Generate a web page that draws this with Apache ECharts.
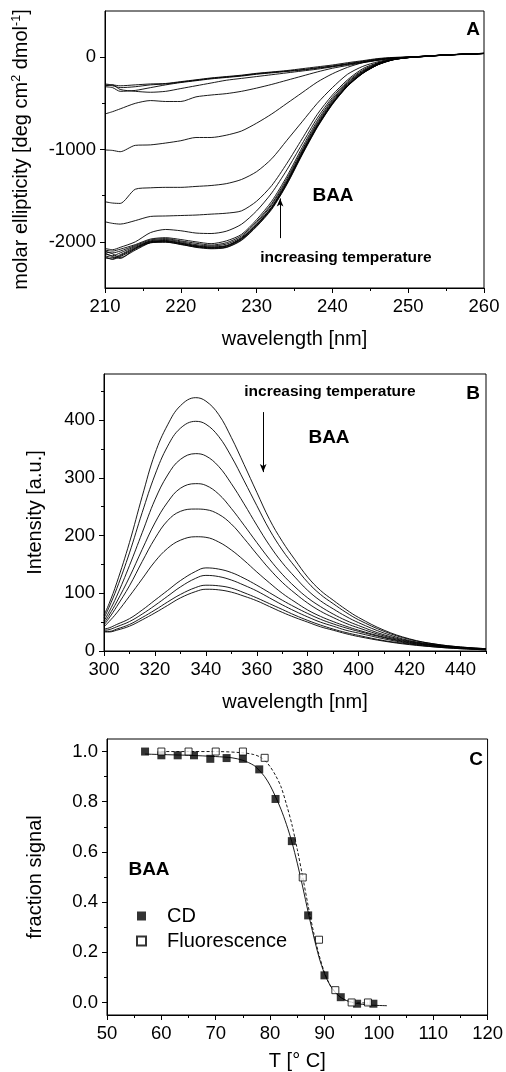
<!DOCTYPE html>
<html>
<head>
<meta charset="utf-8">
<script src="https://cdn.jsdelivr.net/npm/echarts@6/dist/echarts.min.js"></script>
<style>
  html, body { margin: 0; padding: 0; background: #fff; }
  #chart { width: 506px; height: 1072px; }
</style>
</head>
<body>
<div id="chart"></div>
<script>
// ---- panel A : CD spectra, molar ellipticity vs wavelength ----
var wlA = [210, 211, 212, 214, 216, 218, 220, 222, 224, 226, 228, 230, 232, 234, 236, 238, 240, 242, 244, 246, 248, 250, 252, 255, 260];
var cdU1 = [-300, -310, -330, -320, -300, -290, -270, -250, -230, -215, -200, -180, -165, -150, -135, -115, -95, -70, -45, -20, -5, 0, 8, 22, 38];
var cdU2 = [-320, -330, -370, -360, -330, -300, -275, -255, -235, -220, -205, -185, -170, -155, -140, -120, -100, -75, -50, -25, -8, 0, 8, 22, 40];
var cdU3 = [-310, -300, -350, -370, -380, -370, -340, -310, -280, -250, -230, -210, -190, -170, -150, -130, -105, -80, -55, -30, -10, 0, 9, 24, 40];
var cdU4 = [-290, -300, -310, -300, -290, -285, -265, -245, -225, -210, -195, -175, -160, -145, -125, -105, -85, -60, -38, -15, -3, 2, 10, 25, 42];
var cd3 = [-615, -590, -560, -500, -470, -480, -480, -430, -410, -395, -370, -335, -295, -250, -205, -160, -120, -90, -60, -35, -12, 0, 10, 24, 40];
var cd4 = [-1005, -1010, -1024, -955, -950, -930, -905, -870, -870, -845, -800, -715, -615, -500, -385, -270, -180, -110, -60, -30, -10, 0, 10, 25, 40];
var cd5 = [-1566, -1580, -1584, -1430, -1415, -1410, -1410, -1400, -1390, -1370, -1325, -1240, -1100, -900, -700, -500, -330, -185, -100, -50, -15, 0, 10, 25, 40];
var cd6 = [-1783, -1800, -1808, -1770, -1725, -1720, -1715, -1710, -1700, -1690, -1665, -1560, -1390, -1150, -885, -620, -410, -245, -125, -60, -20, -2, 9, 25, 40];
var cd7 = [-2072, -2085, -2060, -2000, -1900, -1866, -1880, -1905, -1910, -1885, -1810, -1665, -1470, -1220, -940, -660, -435, -260, -140, -65, -22, -3, 9, 24, 40];
var cdB1 = [-2090, -2100, -2080, -2030, -1970, -1955, -1975, -2000, -2020, -1990, -1920, -1760, -1560, -1290, -980, -690, -455, -275, -150, -70, -22, -3, 8, 24, 40];
var cdB2 = [-2110, -2120, -2100, -2040, -1980, -1965, -1990, -2015, -2035, -2010, -1935, -1780, -1585, -1315, -1005, -710, -470, -285, -157, -73, -24, -4, 8, 24, 41];
var cdB3 = [-2130, -2150, -2120, -2050, -1990, -1975, -2000, -2030, -2045, -2025, -1950, -1795, -1600, -1335, -1020, -725, -482, -295, -163, -76, -25, -4, 7, 23, 40];
var cdB4 = [-2150, -2170, -2140, -2060, -2000, -1985, -2010, -2040, -2055, -2040, -1960, -1810, -1620, -1350, -1035, -740, -495, -305, -170, -80, -27, -5, 7, 23, 42];
var cdB5 = [-2160, -2190, -2160, -2080, -2005, -1995, -2020, -2050, -2065, -2050, -1970, -1820, -1632, -1362, -1045, -750, -502, -310, -173, -81, -28, -5, 7, 24, 40];
var cdB6 = [-2100, -2130, -2170, -2090, -2010, -2000, -2030, -2055, -2070, -2058, -1978, -1828, -1640, -1370, -1052, -756, -507, -313, -175, -82, -28, -5, 6, 23, 41];
var cdB7 = [-2120, -2160, -2180, -2070, -1995, -1990, -2015, -2045, -2060, -2045, -1965, -1815, -1626, -1356, -1040, -745, -498, -307, -171, -80, -27, -5, 7, 24, 40];
var cdB8 = [-2175, -2185, -2150, -2070, -2010, -2005, -2025, -2060, -2075, -2062, -1985, -1835, -1648, -1378, -1060, -762, -512, -316, -177, -83, -29, -6, 6, 23, 42];
var cdCurves = [cdU1, cdU2, cdU3, cdU4, cd3, cd4, cd5, cd6, cd7, cdB1, cdB2, cdB3, cdB4, cdB5, cdB6, cdB7, cdB8];
var ticksAx = [210, 220, 230, 240, 250, 260];
var minorAx = [215, 225, 235, 245, 255];
var ticksAy = [-2000, -1000, 0];
var minorAy = [-1500, -500];

// ---- panel B : fluorescence spectra ----
var wlB = [300, 302, 305, 310, 315, 320, 325, 330, 336, 340, 345, 350, 355, 360, 365, 370, 375, 380, 385, 390, 395, 400, 410, 420, 430, 440, 450];
var flT1 = [62, 82, 118, 188, 268, 342, 392, 425, 439, 433, 410, 370, 323, 275, 228, 190, 158, 128, 105, 88, 72, 58, 36, 21, 12, 7, 4];
var flT2 = [57, 76, 108, 170, 240, 305, 355, 386, 398, 393, 372, 337, 295, 252, 210, 175, 146, 119, 98, 82, 67, 54, 34, 20, 12, 7, 4];
var flT3 = [52, 68, 95, 148, 205, 262, 305, 332, 342, 338, 320, 290, 255, 218, 183, 153, 128, 105, 87, 73, 60, 49, 31, 18, 11, 6, 4];
var flT4 = [48, 62, 85, 128, 176, 222, 258, 282, 290, 287, 272, 247, 218, 188, 159, 133, 111, 92, 77, 64, 53, 44, 28, 17, 10, 6, 3];
var flT5 = [45, 57, 77, 113, 155, 195, 226, 242, 246, 245, 237, 220, 195, 168, 142, 119, 100, 83, 69, 58, 48, 40, 26, 16, 10, 6, 3];
var flT6 = [42, 51, 66, 95, 125, 155, 178, 192, 198, 197, 189, 175, 157, 137, 118, 100, 85, 71, 60, 51, 43, 36, 24, 15, 9, 5, 3];
var flL1 = [38, 40, 46, 56, 71, 88, 105, 122, 138, 144, 142, 136, 126, 114, 101, 88, 76, 65, 55, 47, 40, 34, 23, 14, 9, 5, 3];
var flL2 = [36, 37, 42, 51, 64, 79, 95, 111, 126, 131, 129, 123, 114, 104, 92, 80, 69, 59, 50, 43, 36, 31, 21, 13, 8, 5, 3];
var flL3 = [34, 34, 38, 46, 58, 71, 85, 98, 110, 114, 113, 109, 101, 92, 82, 72, 62, 53, 45, 38, 32, 27, 18, 12, 7, 4, 2];
var flL4 = [33, 33, 36, 43, 54, 66, 79, 92, 103, 107, 106, 102, 95, 87, 77, 67, 58, 50, 42, 36, 30, 25, 17, 11, 7, 4, 2];
var flCurves = [flT1, flT2, flT3, flT4, flT5, flT6, flL1, flL2, flL3, flL4];
var ticksBx = [300, 320, 340, 360, 380, 400, 420, 440];
var minorBx = [310, 330, 350, 370, 390, 410, 430, 450];
var ticksBy = [0, 100, 200, 300, 400];
var minorBy = [50, 150, 250, 350, 450];

// ---- panel C : melting curves ----
var cdT = [57, 60, 63, 66, 69, 72, 75, 78, 81, 84, 87, 90, 93, 96, 99];
var cdFrac = [1.0, 0.985, 0.985, 0.985, 0.971, 0.974, 0.971, 0.929, 0.811, 0.643, 0.347, 0.108, 0.021, -0.005, -0.005];
var fluT = [60, 65, 70, 75, 79, 86, 89, 92, 95, 98];
var fluFrac = [1.0, 1.0, 1.0, 1.0, 0.975, 0.498, 0.25, 0.049, 0.0, 0.0];
var cdFitT = [57, 60, 65, 70, 73, 75, 77, 78, 79, 80, 81, 82, 83, 84, 85, 86, 87, 88, 89, 90, 91, 92, 93, 94, 96, 98, 101.5];
var cdFitF = [0.99, 0.988, 0.985, 0.98, 0.975, 0.965, 0.945, 0.925, 0.9, 0.865, 0.82, 0.77, 0.71, 0.64, 0.555, 0.46, 0.36, 0.265, 0.18, 0.115, 0.07, 0.04, 0.02, 0.008, -0.004, -0.01, -0.013];
var fluFitT = [60, 65, 70, 75, 77, 78, 79, 80, 81, 82, 83, 84, 85, 86, 87, 88, 89, 90, 91, 92, 93, 94, 95, 98];
var fluFitF = [1.0, 1.0, 1.0, 0.995, 0.988, 0.98, 0.965, 0.94, 0.905, 0.86, 0.79, 0.71, 0.61, 0.5, 0.385, 0.28, 0.19, 0.12, 0.07, 0.04, 0.02, 0.008, 0.0, -0.002];
var ticksCx = [50, 60, 70, 80, 90, 100, 110, 120];
var minorCx = [55, 65, 75, 85, 95, 105, 115];
var ticksCy = [0, 0.2, 0.4, 0.6, 0.8, 1.0];
var minorCy = [0.1, 0.3, 0.5, 0.7, 0.9];

var FONT = '"Liberation Sans", Arial, sans-serif';

function pairs(xs, ys) {
  var out = [];
  for (var i = 0; i < xs.length; i++) out.push([xs[i], ys[i]]);
  return out;
}
function plain(v) { return String(v); }

// major axis (line, labels, long ticks)
function mainAxis(dim, grid, min, max, labels, fmt, name, nameGap) {
  return {
    type: 'value', gridIndex: grid, min: min, max: max,
    position: dim === 'x' ? 'bottom' : 'left',
    name: name, nameLocation: 'middle', nameGap: nameGap,
    nameTextStyle: { fontSize: 20, color: '#000', fontFamily: FONT,
      rich: { sup: { fontSize: 12.5, color: '#000', fontFamily: FONT, padding: [0, 0, 9, 0] } } },
    axisLine: { show: true, onZero: false, lineStyle: { color: '#000', width: 1 } },
    axisTick: { show: true, customValues: labels, length: 5, lineStyle: { color: '#000', width: 1 } },
    axisLabel: { customValues: labels, formatter: fmt || plain, fontSize: 18.5, color: '#000', fontFamily: FONT, margin: 9 },
    splitLine: { show: false }
  };
}
// overlaid axis only for the short minor ticks
function minorAxis(dim, grid, min, max, ticks) {
  return {
    type: 'value', gridIndex: grid, min: min, max: max,
    position: dim === 'x' ? 'bottom' : 'left',
    axisLine: { show: false, onZero: false },
    axisTick: { show: true, customValues: ticks, length: 3, lineStyle: { color: '#000', width: 1 } },
    axisLabel: { show: false },
    splitLine: { show: false }
  };
}

var series = [];
cdCurves.forEach(function (c) {
  series.push({
    type: 'line', xAxisIndex: 0, yAxisIndex: 0, data: pairs(wlA, c),
    showSymbol: false, symbol: 'none', smooth: 0.25,
    lineStyle: { color: '#000', width: 0.9 }
  });
});
flCurves.forEach(function (c) {
  series.push({
    type: 'line', xAxisIndex: 1, yAxisIndex: 1, data: pairs(wlB, c),
    showSymbol: false, symbol: 'none', smooth: 0.4,
    lineStyle: { color: '#000', width: 0.9 }
  });
});
// arrows
series[0].markLine = {
  silent: true, animation: false, symbol: ['none', 'arrow'], symbolSize: [5, 8],
  label: { show: false }, lineStyle: { color: '#000', width: 1, type: 'solid' },
  data: [[{ coord: [233.1, -1960] }, { coord: [233.1, -1530] }]]
};
series[cdCurves.length].markLine = {
  silent: true, animation: false, symbol: ['none', 'arrow'], symbolSize: [5, 8],
  label: { show: false }, lineStyle: { color: '#000', width: 1, type: 'solid' },
  data: [[{ coord: [362.5, 414] }, { coord: [362.5, 310] }]]
};
series.push({
  name: 'CD fit', type: 'line', xAxisIndex: 2, yAxisIndex: 2, data: pairs(cdFitT, cdFitF),
  showSymbol: false, symbol: 'none', smooth: 0.3, lineStyle: { color: '#000', width: 0.9 }
});
series.push({
  name: 'Fluorescence fit', type: 'line', xAxisIndex: 2, yAxisIndex: 2, data: pairs(fluFitT, fluFitF),
  showSymbol: false, symbol: 'none', smooth: 0.3, lineStyle: { color: '#000', width: 0.9, type: [3, 2] }
});
series.push({
  name: 'CD', type: 'scatter', xAxisIndex: 2, yAxisIndex: 2, data: pairs(cdT, cdFrac),
  symbol: 'rect', symbolSize: 8, itemStyle: { color: '#000' }, z: 5
});
series.push({
  name: 'Fluorescence', type: 'scatter', xAxisIndex: 2, yAxisIndex: 2, data: pairs(fluT, fluFrac),
  symbol: 'rect', symbolSize: 7, itemStyle: { color: '#fff', borderColor: '#000', borderWidth: 1 }, z: 6
});

var chart = echarts.init(document.getElementById('chart'), null, { renderer: 'canvas' });
chart.setOption({
  animation: false,
  backgroundColor: '#fff',
  textStyle: { fontFamily: FONT },
  grid: [
    { left: 105, top: 11, width: 379, height: 277, show: true, borderColor: '#000', borderWidth: 1, backgroundColor: 'transparent' },
    { left: 104, top: 374, width: 382, height: 277, show: true, borderColor: '#000', borderWidth: 1, backgroundColor: 'transparent' },
    { left: 107, top: 739, width: 384, height: 279, show: true, borderColor: '#000', borderWidth: 1, backgroundColor: 'transparent' }
  ],
  xAxis: [
    mainAxis('x', 0, 210, 260, ticksAx, null, 'wavelength [nm]', 41),
    mainAxis('x', 1, 300, 450, ticksBx, null, 'wavelength [nm]', 41),
    mainAxis('x', 2, 50, 120, ticksCx, null, 'T [\u00b0 C]', 36),
    minorAxis('x', 0, 210, 260, minorAx),
    minorAxis('x', 1, 300, 450, minorBx),
    minorAxis('x', 2, 50, 120, minorCx)
  ],
  yAxis: [
    mainAxis('y', 0, -2500, 500, ticksAy, null, 'molar ellipticity [deg cm{sup|2} dmol{sup|-1}]', 73),
    mainAxis('y', 1, 0, 480, ticksBy, null, 'Intensity [a.u.]', 59),
    mainAxis('y', 2, -0.05, 1.05, ticksCy, function (v) { return v.toFixed(1); }, 'fraction signal', 62),
    minorAxis('y', 0, -2500, 500, minorAy),
    minorAxis('y', 1, 0, 480, minorBy),
    minorAxis('y', 2, -0.05, 1.05, minorCy)
  ],
  legend: {
    data: ['CD', 'Fluorescence'], orient: 'vertical', left: 131, top: 901,
    itemWidth: 9, itemHeight: 9, itemGap: 5, selectedMode: false,
    textStyle: { fontSize: 20, color: '#000', fontFamily: FONT, padding: [0, 0, 0, 16] }
  },
  graphic: [
    { type: 'text', x: 473, y: 30, style: { text: 'A', font: 'bold 19px ' + FONT, fill: '#000', textAlign: 'center', textVerticalAlign: 'middle' } },
    { type: 'text', x: 333, y: 196, style: { text: 'BAA', font: 'bold 19px ' + FONT, fill: '#000', textAlign: 'center', textVerticalAlign: 'middle' } },
    { type: 'text', x: 346, y: 258, style: { text: 'increasing temperature', font: 'bold 15.5px ' + FONT, fill: '#000', textAlign: 'center', textVerticalAlign: 'middle' } },
    { type: 'text', x: 473, y: 394, style: { text: 'B', font: 'bold 19px ' + FONT, fill: '#000', textAlign: 'center', textVerticalAlign: 'middle' } },
    { type: 'text', x: 330, y: 392, style: { text: 'increasing temperature', font: 'bold 15.5px ' + FONT, fill: '#000', textAlign: 'center', textVerticalAlign: 'middle' } },
    { type: 'text', x: 329, y: 438, style: { text: 'BAA', font: 'bold 19px ' + FONT, fill: '#000', textAlign: 'center', textVerticalAlign: 'middle' } },
    { type: 'text', x: 476, y: 760, style: { text: 'C', font: 'bold 19px ' + FONT, fill: '#000', textAlign: 'center', textVerticalAlign: 'middle' } },
    { type: 'text', x: 149, y: 870, style: { text: 'BAA', font: 'bold 19px ' + FONT, fill: '#000', textAlign: 'center', textVerticalAlign: 'middle' } }
  ],
  series: series
});
</script>
</body>
</html>
